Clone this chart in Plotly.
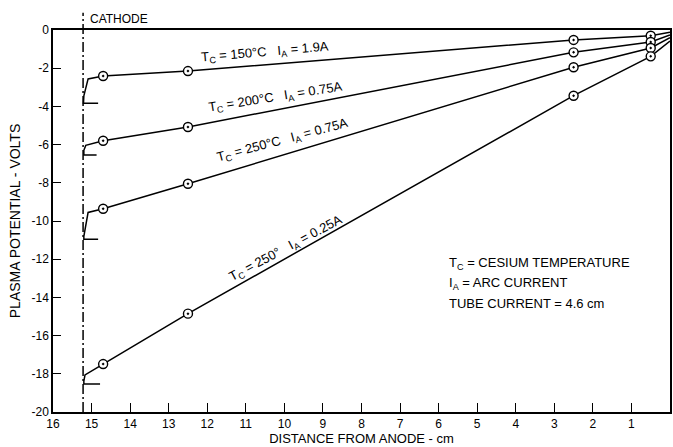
import plotly.graph_objects as go

# ---- data ----
labels = ["T<sub>C</sub> = 150°C   I<sub>A</sub> = 1.9A",
          "T<sub>C</sub> = 200°C   I<sub>A</sub> = 0.75A",
          "T<sub>C</sub> = 250°C   I<sub>A</sub> = 0.75A",
          "T<sub>C</sub> = 250°   I<sub>A</sub> = 0.25A"]

# measured points (circles)
meas_x = [14.7, 12.5, 2.5, 0.5]
meas_y1 = [-2.41, -2.15, -0.52, -0.30]
meas_y2 = [-5.80, -5.08, -1.17, -0.63]
meas_y3 = [-9.36, -8.05, -1.95, -0.94]
meas_y4 = [-17.49, -14.85, -3.44, -1.38]

# full drawn curves incl. cathode fall hook and anode end
path_x1 = [14.83, 15.21, 15.20, 15.09, 14.7, 12.5, 2.5, 0.5, 0.0]
path_y1 = [-3.84, -3.84, -3.45, -2.56, -2.41, -2.15, -0.52, -0.30, -0.12]
path_x2 = [14.87, 15.20, 15.20, 15.15, 14.7, 12.5, 2.5, 0.5, 0.0]
path_y2 = [-6.54, -6.54, -6.30, -6.04, -5.80, -5.08, -1.17, -0.63, -0.26]
path_x3 = [14.83, 15.20, 15.20, 15.09, 14.7, 12.5, 2.5, 0.5, 0.0]
path_y3 = [-10.96, -10.96, -10.80, -9.55, -9.36, -8.05, -1.95, -0.94, -0.40]
path_x4 = [14.78, 15.20, 15.20, 15.17, 14.7, 12.5, 2.5, 0.5, 0.0]
path_y4 = [-18.53, -18.53, -18.38, -18.06, -17.49, -14.85, -3.44, -1.38, -0.58]

cathode_x = 15.22

x_ticks = list(range(0, 17))
y_ticks = list(range(-20, 1, 2))

FONT = "Liberation Sans"

fig = go.Figure()
paths = [(path_x1, path_y1), (path_x2, path_y2), (path_x3, path_y3), (path_x4, path_y4)]
meas = [meas_y1, meas_y2, meas_y3, meas_y4]
for (px, py) in paths:
    fig.add_trace(go.Scatter(x=px, y=py, mode="lines",
                             line=dict(color="black", width=1.5),
                             showlegend=False, hoverinfo="skip"))
for my in meas:
    fig.add_trace(go.Scatter(x=meas_x, y=my, mode="markers",
                             marker=dict(symbol="circle-dot", size=9, color="white",
                                         line=dict(color="black", width=1.4)),
                             showlegend=False, cliponaxis=False))

# cathode dash-dot line
fig.add_shape(type="line", xref="x", yref="paper", x0=cathode_x, x1=cathode_x,
              y0=0, y1=1.045, line=dict(color="black", width=1.5, dash="10px,3px,2px,3px"))

annos = []
annos.append(dict(x=15.09, y=1.03, xref="x", yref="paper", text="CATHODE",
                  showarrow=False, xanchor="left", yanchor="middle",
                  font=dict(size=12, family=FONT, color="black")))

# line labels (centre positions, angles)
lab_pos = [(10.51, -1.2, -5), (10.22, -3.55, -9), (10.04, -5.8, -15), (9.95, -11.45, -28)]
for t, (lx, ly, ang) in zip(labels, lab_pos):
    annos.append(dict(x=lx, y=ly, xref="x", yref="y", text=t, showarrow=False,
                      textangle=ang, font=dict(size=13, family=FONT, color="black")))

notes = ["T<sub>C</sub> = CESIUM TEMPERATURE", "I<sub>A</sub> = ARC CURRENT",
         "TUBE CURRENT = 4.6 cm"]
for i, t in enumerate(notes):
    annos.append(dict(x=5.77, y=-12.25 - 1.03 * i, xref="x", yref="y", text=t,
                      showarrow=False, xanchor="left", yanchor="middle",
                      font=dict(size=13, family=FONT, color="black")))

fig.update_layout(
    width=673, height=447,
    margin=dict(l=53, r=1, t=30, b=35),
    paper_bgcolor="white", plot_bgcolor="white",
    font=dict(family=FONT, color="black", size=12),
    annotations=annos,
    xaxis=dict(range=[16, 0], tickvals=x_ticks, ticktext=[str(v) for v in x_ticks],
               ticks="inside", ticklen=9, tickwidth=1.2, tickcolor="black",
               showline=True, linecolor="black", linewidth=1.5, mirror=True,
               showgrid=False, zeroline=False,
               tickfont=dict(size=12, family=FONT),
               title=dict(text="DISTANCE FROM ANODE - cm", font=dict(size=13, family=FONT),
                          standoff=2)),
    yaxis=dict(range=[-20, 0], tickvals=y_ticks, ticktext=[str(v) for v in y_ticks],
               ticks="inside", ticklen=8, tickwidth=1.2, tickcolor="black",
               showline=True, linecolor="black", linewidth=1.5, mirror=True,
               showgrid=False, zeroline=False,
               tickfont=dict(size=12, family=FONT),
               title=dict(text="PLASMA POTENTIAL - VOLTS", font=dict(size=14, family=FONT),
                          standoff=8)),
)

fig.write_html("out.html", config={"displayModeBar": False},
               post_script="document.body.style.margin='0';")
